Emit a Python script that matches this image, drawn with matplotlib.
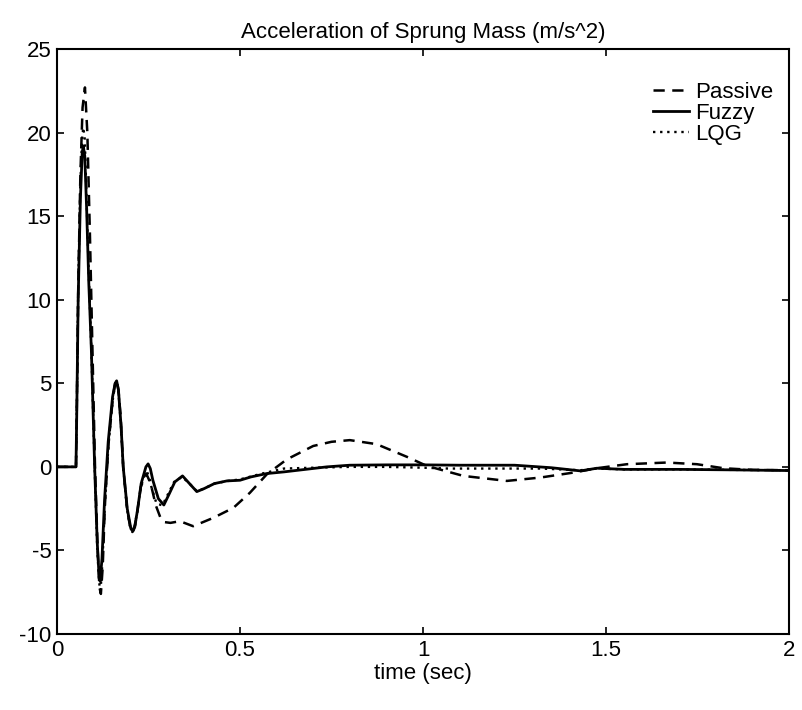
import numpy as np
import matplotlib.pyplot as plt

plt.rcParams['font.family'] = ['Liberation Sans', 'DejaVu Sans']
plt.rcParams['axes.unicode_minus'] = False

# readings (time in sec, acceleration in m/s^2)
t_passive = [0, 0.052, 0.054, 0.058, 0.064, 0.070, 0.0765, 0.083, 0.090, 0.097, 0.104,
             0.111, 0.116, 0.120, 0.125, 0.131, 0.141, 0.153, 0.159, 0.163, 0.168,
             0.174, 0.181, 0.192, 0.200, 0.207, 0.213, 0.220, 0.229, 0.244, 0.256,
             0.270, 0.282, 0.292, 0.310, 0.336, 0.372, 0.427, 0.482, 0.527, 0.573,
             0.628, 0.700, 0.750, 0.800, 0.873, 0.956, 1.010, 1.110, 1.229, 1.320,
             1.411, 1.475, 1.557, 1.666, 1.748, 1.820, 1.900, 2.0]
a_passive = [0, 0, 3.0, 10.5, 17.5, 21.5, 22.7, 20.0, 14.0, 7.0, 0.0,
             -4.8, -7.2, -7.6, -6.0, -2.3, 1.4, 4.2, 5.0, 5.2, 4.6,
             3.0, 0.0, -2.6, -3.6, -3.9, -3.6, -2.6, -1.2, -0.4, -1.0,
             -2.3, -3.0, -3.3, -3.35, -3.25, -3.55, -3.05, -2.45, -1.55, -0.45,
             0.45, 1.25, 1.5, 1.6, 1.36, 0.6, 0.06, -0.54, -0.84, -0.64,
             -0.34, -0.08, 0.16, 0.26, 0.16, -0.08, -0.18, -0.2]

t_fuzzy = [0, 0.052, 0.054, 0.058, 0.064, 0.069, 0.072, 0.076, 0.081, 0.087, 0.094,
           0.103, 0.110, 0.115, 0.118, 0.123, 0.130, 0.140, 0.152, 0.159, 0.163,
           0.168, 0.175, 0.181, 0.192, 0.202, 0.207, 0.213, 0.220, 0.230, 0.243,
           0.249, 0.255, 0.262, 0.277, 0.292, 0.307, 0.322, 0.343, 0.362, 0.382,
           0.402, 0.430, 0.464, 0.500, 0.530, 0.573, 0.620, 0.737, 0.800, 0.900,
           1.000, 1.100, 1.250, 1.350, 1.430, 1.475, 1.550, 1.700, 1.850, 2.0]
a_fuzzy = [0, 0, 3.0, 10.0, 16.0, 18.8, 19.2, 18.6, 15.5, 11.0, 7.0,
           0.0, -4.5, -6.5, -6.85, -5.5, -2.0, 1.5, 4.2, 5.0, 5.15,
           4.6, 2.5, 0.0, -2.5, -3.7, -3.85, -3.5, -2.6, -1.0, 0.0,
           0.18, -0.1, -0.8, -1.9, -2.28, -1.6, -0.9, -0.54, -1.0, -1.48,
           -1.3, -1.0, -0.84, -0.8, -0.6, -0.4, -0.3, 0.0, 0.1, 0.12,
           0.12, 0.1, 0.1, -0.05, -0.24, -0.08, -0.15, -0.15, -0.18, -0.22]

t_lqg = [0, 0.052, 0.054, 0.058, 0.064, 0.069, 0.072, 0.076, 0.081, 0.087, 0.094,
         0.103, 0.110, 0.115, 0.119, 0.124, 0.131, 0.141, 0.153, 0.159, 0.163,
         0.168, 0.175, 0.181, 0.192, 0.201, 0.206, 0.212, 0.219, 0.229, 0.241,
         0.246, 0.252, 0.258, 0.272, 0.288, 0.304, 0.320, 0.342, 0.362, 0.382,
         0.402, 0.430, 0.464, 0.500, 0.560, 0.620, 0.700, 0.800, 0.900, 1.000,
         1.070, 1.150, 1.250, 1.320, 1.430, 1.475, 1.550, 1.700, 1.850, 2.0]
a_lqg = [0, 0, 3.0, 10.5, 17.0, 19.8, 20.3, 19.6, 16.0, 11.5, 7.0,
         0.0, -4.8, -6.9, -7.4, -5.8, -2.2, 1.4, 4.1, 4.9, 5.1,
         4.5, 2.4, 0.0, -2.6, -3.7, -3.9, -3.6, -2.7, -1.2, -0.4,
         -0.3, -0.6, -1.2, -2.2, -2.3, -1.6, -0.9, -0.6, -1.0, -1.45,
         -1.3, -1.0, -0.85, -0.75, -0.4, -0.1, -0.05, 0.0, 0.0, -0.05,
         -0.1, -0.1, -0.1, -0.1, -0.2, -0.1, -0.15, -0.15, -0.18, -0.2]

fig = plt.figure(figsize=(8.02, 7.10), dpi=100)
ax = fig.add_axes([0.071, 0.107, 0.913, 0.824])

ax.plot(t_passive, a_passive, color='black', lw=1.8, linestyle=(0, (4.5, 3)), label='Passive')
ax.plot(t_fuzzy, a_fuzzy, color='black', lw=2.0, linestyle='-', label='Fuzzy')
ax.plot(t_lqg, a_lqg, color='black', lw=1.7, linestyle=(0, (1, 2)), label='LQG')

ax.set_xlim(0, 2)
ax.set_ylim(-10, 25)
ax.set_xticks([0, 0.5, 1, 1.5, 2])
ax.set_xticklabels(['0', '0.5', '1', '1.5', '2'])
ax.set_yticks([-10, -5, 0, 5, 10, 15, 20, 25])
ax.tick_params(direction='in', length=5, width=1.2, labelsize=16, top=True, right=True, pad=4)
for s in ax.spines.values():
    s.set_linewidth(1.5)

ax.set_title('Acceleration of Sprung Mass (m/s^2)', fontsize=16, pad=8)
ax.set_xlabel('time (sec)', fontsize=16, labelpad=2)

ax.legend(loc='upper right', frameon=False, fontsize=16, handlelength=1.6,
          handletextpad=0.3, labelspacing=0.0, borderaxespad=0.3,
          bbox_to_anchor=(1.0, 0.97))

fig.savefig('out.png', dpi=100)
